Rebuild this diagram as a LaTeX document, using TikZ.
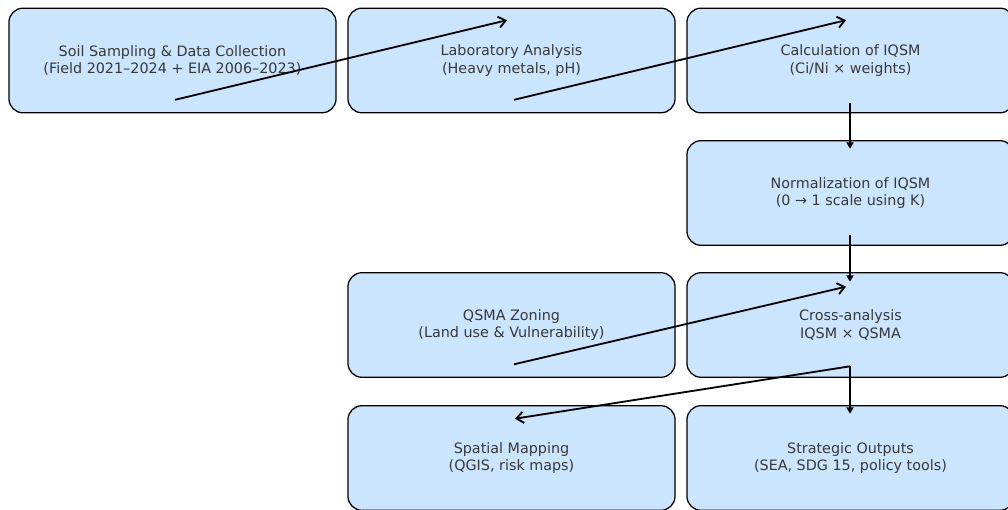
\documentclass[tikz,border=0pt]{standalone}
\usepackage{fontspec}
\setmainfont{DejaVu Sans}
\usetikzlibrary{arrows.meta,calc}
\definecolor{boxblue}{RGB}{204,229,255}
\begin{document}
\begin{tikzpicture}[x=0.025cm,y=-0.025cm,
    stage/.style={draw=black,line width=0.9pt,fill=boxblue,rounded corners=10pt,
        minimum width=8.175cm,minimum height=2.615cm,inner sep=0pt,outer sep=0pt,
        align=center,text=black!78,font=\fontsize{10.2}{12.2}\selectfont},
    flow/.style={line width=1.3pt,-{Straight Barb[length=5pt,width=8pt]}},
    vflow/.style={line width=1.9pt,-{Triangle[length=4.5pt,width=5pt]}}]
    
\def\COLA{172.5}
\def\COLB{511.5}
\def\COLC{850.5}
	\clip (0,0) rectangle (1008,510);
	\node[stage] (soil) at (\COLA,60.5) {Soil Sampling \& Data Collection\\(Field 2021–2024 + EIA 2006–2023)};
	\node[stage] (lab) at (\COLB,60.5) {Laboratory Analysis\\(Heavy metals, pH)};
	\node[stage] (calc) at (\COLC,60.5) {Calculation of IQSM\\(Ci/Ni × weights)};
	\node[stage] (norm) at (\COLC,193) {Normalization of IQSM\\(0 → 1 scale using K)};
	\node[stage] (zoning) at (\COLB,325) {QSMA Zoning\\(Land use \& Vulnerability)};
	\node[stage] (cross) at (\COLC,325) {Cross-analysis\\IQSM × QSMA};
	\node[stage] (mapping) at (\COLB,458) {Spatial Mapping\\(QGIS, risk maps)};
	\node[stage] (outputs) at (\COLC,458) {Strategic Outputs\\(SEA, SDG 15, policy tools)};

	\draw[flow] ($(soil.south)+(2.5,-13)$) -- ($(lab.north)+(-4.5,12)$);
	\draw[flow] ($(lab.south)+(2.5,-13)$) -- ($(calc.north)+(-4.5,12)$);
	\draw[vflow] ($(calc.south)+(-0.5,-10)$) -- ($(norm.north)+(-0.5,8)$);
	\draw[vflow] ($(norm.south)+(-0.5,-10)$) -- ($(cross.north)+(-0.5,9)$);
	\draw[flow] ($(zoning.south)+(2.5,-13)$) -- ($(cross.north)+(-4.5,14)$);
	\draw[flow] ($(cross.south)+(-0.5,-11)$) -- ($(mapping.north)+(3.5,13)$);
	\draw[vflow] ($(cross.south)+(-0.5,-11)$) -- ($(outputs.north)+(-0.5,8)$);

\end{tikzpicture}
\end{document}
